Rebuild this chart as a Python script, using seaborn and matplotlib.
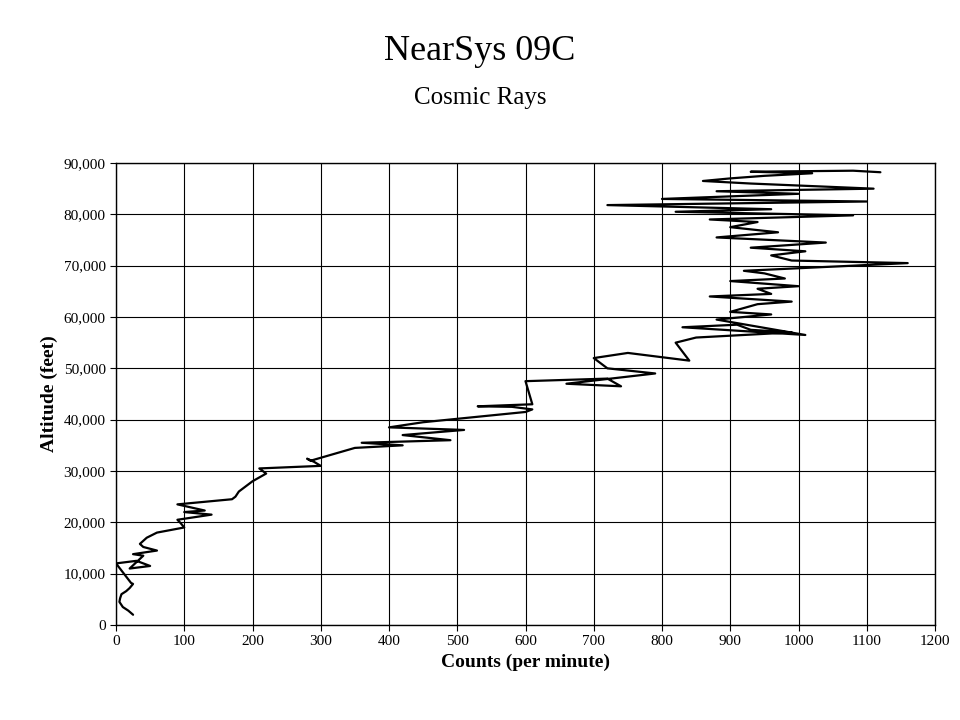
import numpy as np
import pandas as pd
import matplotlib.pyplot as plt
import seaborn as sns

# counts per minute vs altitude (feet)
counts = [25, 18, 10, 5, 6, 8, 15, 20, 25, 22,
          0, 30, 50, 20, 40, 25, 60, 40, 35, 45,
          60, 80, 100, 95, 90, 140, 100, 130, 90, 170,
          175, 180, 190, 200, 220, 210, 300, 290, 280, 285,
          350, 420, 360, 490, 420, 510, 400, 450, 600, 610,
          580, 530, 610, 600, 720, 740, 660, 790, 720, 700,
          750, 840, 820, 850, 990, 930, 910, 830, 1010, 880,
          960, 900, 940, 990, 870, 960, 940, 1000, 900, 980,
          950, 920, 1160, 990, 960, 1010, 930, 1040, 880, 970,
          900, 940, 870, 1080, 820, 960, 720, 1100, 800, 1000,
          880, 1110, 930, 860, 900, 950, 1020, 930, 1080, 1120]
altitude = [2000, 2800, 3500, 4500, 5200, 6000, 6600, 7200, 8000, 8200,
            12000, 12500, 11500, 11000, 13500, 13800, 14500, 15200, 15800, 17000,
            18000, 18500, 19000, 19800, 20500, 21500, 22000, 22300, 23500, 24500,
            25000, 26000, 27000, 28000, 29500, 30500, 31000, 31800, 32400, 32000,
            34500, 35000, 35500, 36000, 37000, 38000, 38500, 39500, 41500, 42000,
            42500, 42600, 43000, 47500, 48000, 46500, 47000, 49000, 50000, 52000,
            53000, 51500, 55000, 56000, 57000, 57500, 58500, 58000, 56500, 59500,
            60500, 61000, 62500, 63000, 64000, 64500, 65500, 66000, 67000, 67500,
            68500, 69000, 70500, 71000, 72000, 72800, 73500, 74500, 75500, 76500,
            77500, 78500, 79000, 79800, 80500, 81000, 81800, 82500, 83000, 84000,
            84500, 85000, 86000, 86500, 87000, 87500, 88000, 88300, 88500, 88200]

df = pd.DataFrame({"counts": counts, "altitude": altitude})

sns.set_style("white")
plt.rcParams['font.family'] = ['Liberation Serif', 'DejaVu Serif']
plt.rcParams['text.color'] = 'black'
plt.rcParams['axes.labelcolor'] = 'black'
plt.rcParams['xtick.color'] = 'black'
plt.rcParams['ytick.color'] = 'black'

fig = plt.figure(figsize=(9.6, 7.2), dpi=100)
ax = fig.add_axes([116 / 960, 1 - 625 / 720, 819 / 960, 462 / 720])
sns.lineplot(data=df, x="counts", y="altitude", sort=False, estimator=None,
             color="black", linewidth=1.6, ax=ax)

ax.set_xlim(0, 1200)
ax.set_ylim(0, 90000)
ax.set_xticks(np.arange(0, 1201, 100))
ax.set_yticks(np.arange(0, 90001, 10000))
ax.set_yticklabels([f"{v:,}" for v in range(0, 90001, 10000)])
ax.tick_params(labelsize=11, length=4, direction="out", left=True, bottom=True)
ax.grid(True, color="black", linewidth=0.8)
for s in ax.spines.values():
    s.set_color("black")
    s.set_linewidth(1)
ax.set_xlabel("Counts (per minute)", fontsize=14, fontweight="bold")
ax.set_ylabel("Altitude (feet)", fontsize=14, fontweight="bold")

fig.text(0.5, 1 - 52 / 720, "NearSys 09C", ha="center", va="center", fontsize=26)
fig.text(0.5, 1 - 98 / 720, "Cosmic Rays", ha="center", va="center", fontsize=18)

fig.savefig("out.png", dpi=100, facecolor="white")
